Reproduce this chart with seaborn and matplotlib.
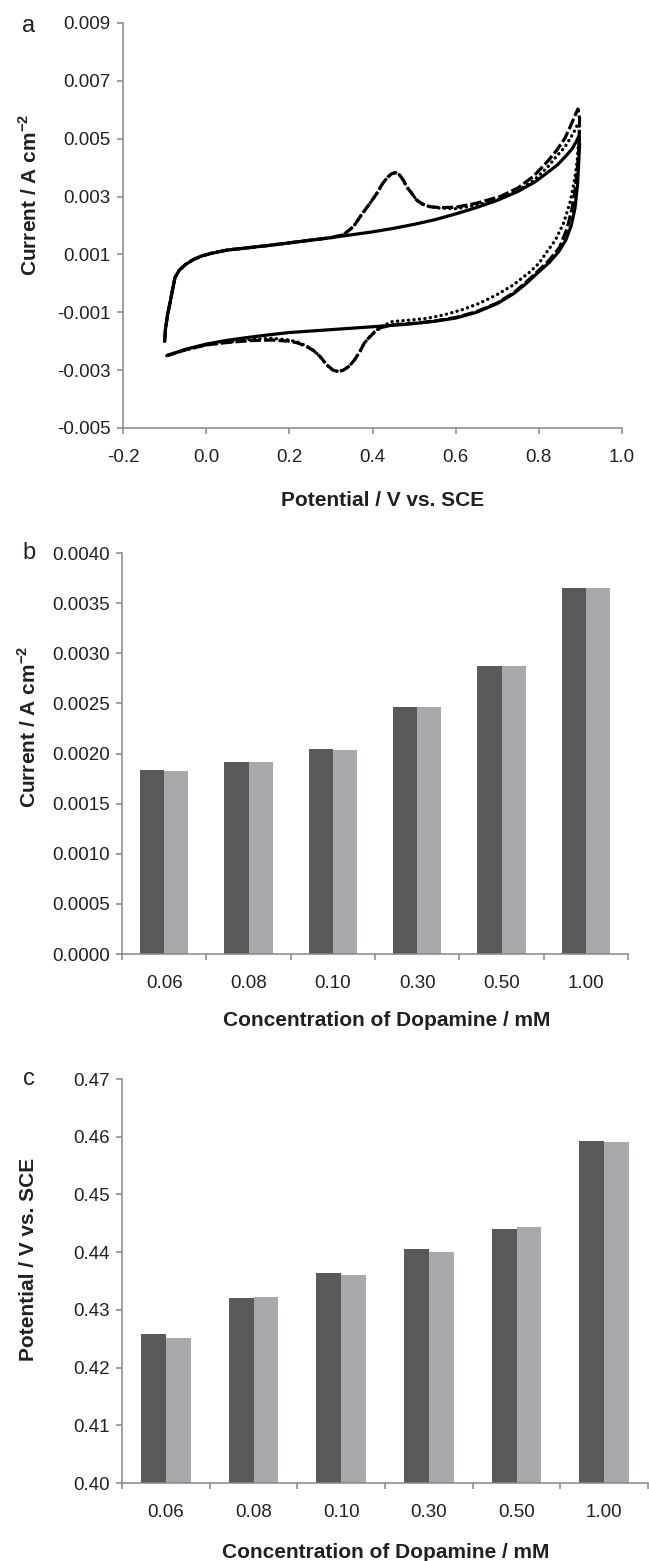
import numpy as np
import pandas as pd
import matplotlib
matplotlib.use("Agg")
import matplotlib.pyplot as plt
from matplotlib.ticker import FormatStrFormatter
import seaborn as sns

# ---- panel a: cyclic voltammograms ----
blank_E = [-0.100, -0.098, -0.093, -0.086, -0.075, -0.065, -0.050, -0.030, -0.010, 0.010,
           0.050, 0.100, 0.150, 0.200, 0.250, 0.300, 0.350, 0.400, 0.450, 0.500,
           0.550, 0.600, 0.650, 0.700, 0.750, 0.790, 0.820, 0.845, 0.865, 0.880,
           0.890, 0.896,
           0.898, 0.896, 0.893, 0.887, 0.878, 0.865, 0.848, 0.825, 0.800, 0.770,
           0.740, 0.700, 0.650, 0.600, 0.550, 0.500, 0.450, 0.400, 0.350, 0.300,
           0.250, 0.200, 0.150, 0.100, 0.050, 0.000, -0.050, -0.095]
blank_I = [-0.00200, -0.00160, -0.00110, -0.00060, 0.00020, 0.00045, 0.00065, 0.00083, 0.00095, 0.00103,
           0.00115, 0.00123, 0.00131, 0.00140, 0.00149, 0.00158, 0.00168, 0.00178, 0.00190, 0.00204,
           0.00220, 0.00240, 0.00262, 0.00287, 0.00318, 0.00350, 0.00382, 0.00410, 0.00440, 0.00465,
           0.00490, 0.00508,
           0.00480, 0.00420, 0.00340, 0.00260, 0.00200, 0.00150, 0.00110, 0.00072, 0.00040, 0.00000,
           -0.00035, -0.00070, -0.00100, -0.00120, -0.00131, -0.00139, -0.00145, -0.00150, -0.00155, -0.00160,
           -0.00165, -0.00170, -0.00178, -0.00187, -0.00197, -0.00210, -0.00228, -0.00250]

dash_E = [-0.100, -0.098, -0.093, -0.086, -0.075, -0.065, -0.050, -0.030, -0.010, 0.010,
          0.050, 0.100, 0.150, 0.200, 0.250, 0.300, 0.330, 0.354, 0.375, 0.394,
          0.410, 0.422, 0.435, 0.445, 0.455, 0.465, 0.475, 0.482, 0.495, 0.506,
          0.520, 0.538, 0.562, 0.600, 0.650, 0.707, 0.750, 0.787, 0.820, 0.843,
          0.862, 0.875, 0.887, 0.894,
          0.898, 0.897, 0.894, 0.889, 0.880, 0.868, 0.850, 0.825, 0.800, 0.770,
          0.740, 0.700, 0.650, 0.600, 0.550, 0.500, 0.450, 0.420, 0.405, 0.390,
          0.380, 0.370, 0.357, 0.345, 0.330, 0.318, 0.305, 0.290, 0.274, 0.258,
          0.241, 0.220, 0.200, 0.160, 0.120, 0.080, 0.040, 0.000, -0.050, -0.095]
dash_I = [-0.00200, -0.00160, -0.00110, -0.00060, 0.00020, 0.00045, 0.00065, 0.00083, 0.00095, 0.00103,
          0.00115, 0.00123, 0.00131, 0.00140, 0.00149, 0.00158, 0.00168, 0.00196, 0.00240, 0.00277,
          0.00310, 0.00340, 0.00365, 0.00378, 0.00383, 0.00375, 0.00355, 0.00334, 0.00310, 0.00288,
          0.00274, 0.00265, 0.00262, 0.00263, 0.00277, 0.00300, 0.00330, 0.00370, 0.00420, 0.00460,
          0.00500, 0.00540, 0.00580, 0.00603,
          0.00570, 0.00500, 0.00420, 0.00340, 0.00260, 0.00190, 0.00125, 0.00080, 0.00045, 0.00005,
          -0.00032, -0.00068, -0.00098, -0.00118, -0.00130, -0.00138, -0.00143, -0.00153, -0.00168, -0.00190,
          -0.00207, -0.00235, -0.00264, -0.00285, -0.00300, -0.00305, -0.00300, -0.00282, -0.00253, -0.00232,
          -0.00218, -0.00206, -0.00200, -0.00196, -0.00197, -0.00201, -0.00206, -0.00213, -0.00230, -0.00250]

dot_E = [-0.100, -0.098, -0.093, -0.086, -0.075, -0.065, -0.050, -0.030, -0.010, 0.010,
         0.050, 0.100, 0.150, 0.200, 0.250, 0.300, 0.330, 0.354, 0.375, 0.394,
         0.410, 0.422, 0.435, 0.445, 0.455, 0.465, 0.475, 0.482, 0.495, 0.506,
         0.520, 0.538, 0.562, 0.600, 0.650, 0.707, 0.750, 0.787, 0.820, 0.843,
         0.862, 0.875, 0.887, 0.894,
         0.898, 0.896, 0.892, 0.885, 0.875, 0.860, 0.840, 0.820, 0.800, 0.779,
         0.738, 0.697, 0.655, 0.614, 0.572, 0.531, 0.490, 0.448, 0.420, 0.405,
         0.390, 0.380, 0.370, 0.357, 0.345, 0.330, 0.318, 0.305, 0.290, 0.274,
         0.258, 0.241, 0.220, 0.200, 0.160, 0.120, 0.080, 0.040, 0.000, -0.050, -0.095]
dot_I = [-0.00200, -0.00160, -0.00110, -0.00060, 0.00020, 0.00045, 0.00065, 0.00083, 0.00095, 0.00103,
         0.00115, 0.00123, 0.00131, 0.00140, 0.00149, 0.00158, 0.00168, 0.00196, 0.00240, 0.00277,
         0.00310, 0.00340, 0.00365, 0.00378, 0.00383, 0.00375, 0.00355, 0.00334, 0.00310, 0.00288,
         0.00274, 0.00265, 0.00260, 0.00258, 0.00270, 0.00292, 0.00320, 0.00355, 0.00400, 0.00440,
         0.00470, 0.00500, 0.00530, 0.00552,
         0.00540, 0.00490, 0.00420, 0.00350, 0.00280, 0.00210, 0.00150, 0.00110, 0.00069, 0.00040,
         -0.00006, -0.00041, -0.00070, -0.00092, -0.00109, -0.00121, -0.00127, -0.00132, -0.00150, -0.00168,
         -0.00190, -0.00207, -0.00235, -0.00264, -0.00285, -0.00300, -0.00305, -0.00300, -0.00282, -0.00253,
         -0.00232, -0.00216, -0.00203, -0.00196, -0.00190, -0.00192, -0.00198, -0.00205, -0.00213, -0.00230, -0.00250]

a_xticks = [-0.2, 0.0, 0.2, 0.4, 0.6, 0.8, 1.0]
a_yticks = [-0.005, -0.003, -0.001, 0.001, 0.003, 0.005, 0.007, 0.009]

# ---- panels b and c: bar values ----
concentrations = ["0.06", "0.08", "0.10", "0.30", "0.50", "1.00"]
current_dark = [0.00184, 0.00192, 0.00204, 0.00246, 0.00287, 0.00365]
current_light = [0.00183, 0.00192, 0.00203, 0.00246, 0.00287, 0.00365]
potential_dark = [0.4258, 0.4321, 0.4364, 0.4406, 0.4440, 0.4592]
potential_light = [0.4251, 0.4323, 0.4360, 0.4401, 0.4443, 0.4590]
b_yticks = [0.0000, 0.0005, 0.0010, 0.0015, 0.0020, 0.0025, 0.0030, 0.0035, 0.0040]
c_yticks = [0.40, 0.41, 0.42, 0.43, 0.44, 0.45, 0.46, 0.47]

DARK = "#58595b"
LIGHT = "#a7a9ac"
AXIS_GREY = "#868686"
TEXT = "#231f20"

sns.set_style("ticks")
plt.rcParams["font.family"] = ["Liberation Sans", "DejaVu Sans"]
plt.rcParams["mathtext.fontset"] = "custom"
plt.rcParams["mathtext.rm"] = "Liberation Sans"
plt.rcParams["mathtext.bf"] = "Liberation Sans:bold"
plt.rcParams["axes.unicode_minus"] = False

W, H = 649, 1561
fig = plt.figure(figsize=(W / 100, H / 100), dpi=100)
ax_a = fig.add_axes([123 / W, 1 - 428 / H, 499 / W, 405 / H])
ax_b = fig.add_axes([122 / W, 1 - 954 / H, 506 / W, 401 / H])
ax_c = fig.add_axes([122 / W, 1 - 1483 / H, 526 / W, 404 / H])


def style_axes(ax):
    sns.despine(ax=ax)
    for s in ["left", "bottom"]:
        ax.spines[s].set_color(AXIS_GREY)
        ax.spines[s].set_linewidth(1.1)
    ax.tick_params(axis="both", which="both", colors=AXIS_GREY, labelcolor=TEXT,
                   labelsize=13.5, length=4, width=1.1, direction="out")
    ax.tick_params(axis="x", pad=11)
    ax.tick_params(axis="y", pad=5)


# panel a
cv = [(blank_E, blank_I, "-", 2.3, "butt"),
      (dash_E, dash_I, (0, (3.5, 1.0)), 2.3, "butt"),
      (dot_E, dot_I, (0, (0.05, 1.6)), 2.4, "round")]
for E, I, ls, lw, cap in cv:
    sns.lineplot(x=E, y=I, sort=False, estimator=None, ax=ax_a, color="black",
                 linestyle=ls, linewidth=lw, dash_capstyle=cap)
ax_a.set_xlim(-0.2, 1.0)
ax_a.set_ylim(-0.005, 0.009)
ax_a.set_xticks(a_xticks)
ax_a.set_yticks(a_yticks)
ax_a.xaxis.set_major_formatter(FormatStrFormatter("%.1f"))
ax_a.yaxis.set_major_formatter(FormatStrFormatter("%.3f"))
style_axes(ax_a)
ax_a.set_xlabel("Potential / V vs. SCE", fontsize=15, fontweight="bold", color=TEXT, va="center")
ax_a.set_ylabel(r"Current / A cm$^{\mathbf{-2}}$", fontsize=15, fontweight="bold", color=TEXT, va="center")
ax_a.xaxis.set_label_coords(0.52, -0.178)
ax_a.yaxis.set_label_coords(-0.188, 0.575)


def bar_panel(ax, dark, light, yticks, fmt, ylabel, xl, yl):
    df = pd.DataFrame({
        "conc": concentrations * 2,
        "value": dark + light,
        "series": ["dark"] * len(dark) + ["light"] * len(light),
    })
    sns.barplot(data=df, x="conc", y="value", hue="series", order=concentrations,
                palette=[DARK, LIGHT], saturation=1, width=0.57, linewidth=0,
                legend=False, ax=ax)
    ax.set_xlim(-0.5, len(concentrations) - 0.5)
    ax.set_ylim(yticks[0], yticks[-1])
    ax.set_yticks(yticks)
    ax.yaxis.set_major_formatter(FormatStrFormatter(fmt))
    ax.set_xticks(np.arange(-0.5, len(concentrations), 1.0))
    ax.set_xticklabels([])
    ax.set_xticks(range(len(concentrations)), minor=True)
    ax.set_xticklabels(concentrations, minor=True)
    style_axes(ax)
    ax.tick_params(axis="x", which="minor", length=0, pad=15)
    ax.set_xlabel("Concentration of Dopamine / mM", fontsize=15, fontweight="bold", color=TEXT, va="center")
    ax.set_ylabel(ylabel, fontsize=15, fontweight="bold", color=TEXT, va="center")
    ax.xaxis.set_label_coords(*xl)
    ax.yaxis.set_label_coords(*yl)


bar_panel(ax_b, current_dark, current_light, b_yticks, "%.4f",
          r"Current / A cm$^{\mathbf{-2}}$", (0.524, -0.167), (-0.184, 0.566))
bar_panel(ax_c, potential_dark, potential_light, c_yticks, "%.2f",
          "Potential / V vs. SCE", (0.502, -0.171), (-0.177, 0.554))

# panel letters
fig.text(22 / W, 1 - 32 / H, "a", fontsize=17, color=TEXT, va="baseline")
fig.text(22 / W, 1 - 559 / H, "b", fontsize=17, color=TEXT, va="baseline")
fig.text(23 / W, 1 - 1085 / H, "c", fontsize=17, color=TEXT, va="baseline")

fig.savefig("out.png", dpi=100, facecolor="white")
